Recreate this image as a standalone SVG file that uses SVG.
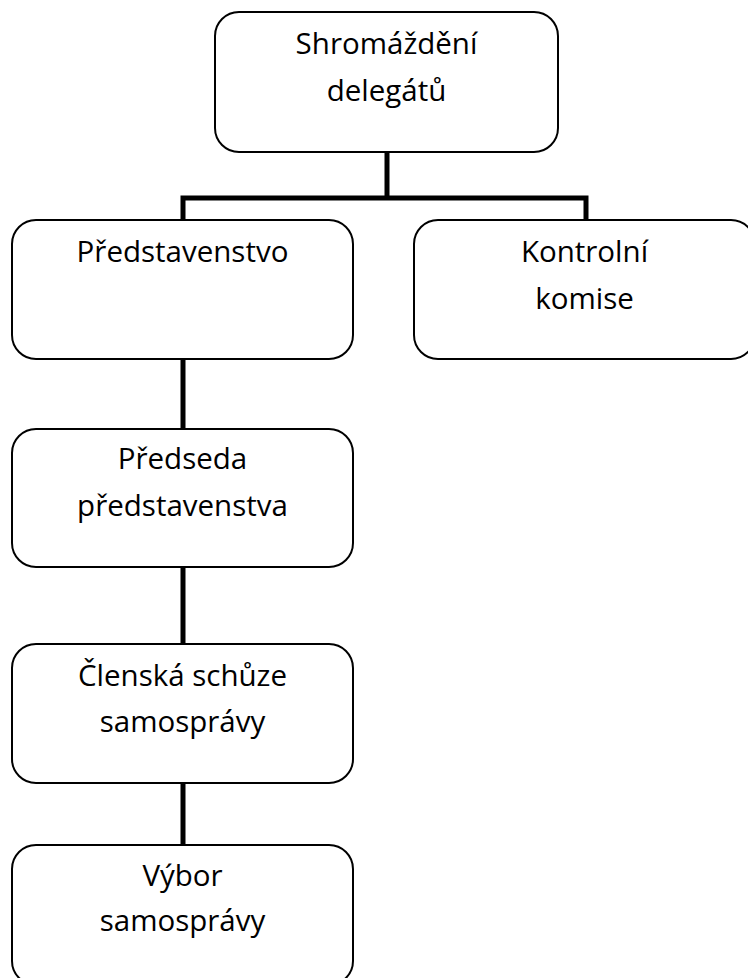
<svg xmlns="http://www.w3.org/2000/svg" width="748" height="978" viewBox="0 0 748 978">
<style>
.box{fill:#fff;stroke:#000;stroke-width:2}
.t{font-family:"Open Sans","Noto Sans",sans-serif;font-size:29.5px;fill:#000;text-anchor:middle}
.c{stroke:#000;stroke-width:5;fill:none;stroke-linecap:square}
</style>
<rect width="748" height="978" fill="#fff"/>
<g id="connectors">
<path class="c" d="M387 153 V198 M183 198 H586 M183 198 V219 M586 198 V219"/>
<path class="c" d="M183 360 V428 M183 568 V643 M183 784 V844"/>
</g>
<g id="shromazdeni">
<rect class="box" x="215" y="12" width="343" height="140" rx="24"/>
<text class="t" x="386.5" y="54">Shromáždění</text>
<text class="t" x="386.5" y="101">delegátů</text>
</g>
<g id="predstavenstvo">
<rect class="box" x="12" y="220" width="341" height="139" rx="24"/>
<text class="t" x="182.5" y="262">Představenstvo</text>
</g>
<g id="kontrolni">
<rect class="box" x="414" y="220" width="341" height="139" rx="24"/>
<text class="t" x="584.5" y="262">Kontrolní</text>
<text class="t" x="584.5" y="309">komise</text>
</g>
<g id="predseda">
<rect class="box" x="12" y="429" width="341" height="138" rx="24"/>
<text class="t" x="182.5" y="469">Předseda</text>
<text class="t" x="182.5" y="516">představenstva</text>
</g>
<g id="clenska">
<rect class="box" x="12" y="644" width="341" height="139" rx="24"/>
<text class="t" x="182.5" y="686">Členská schůze</text>
<text class="t" x="182.5" y="732">samosprávy</text>
</g>
<g id="vybor">
<rect class="box" x="12" y="845" width="341" height="140" rx="24"/>
<text class="t" x="182.5" y="886">Výbor</text>
<text class="t" x="182.5" y="931">samosprávy</text>
</g>
</svg>
